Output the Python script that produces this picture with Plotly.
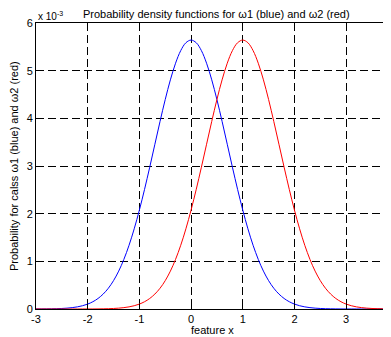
import plotly.graph_objects as go

# feature x sample positions (-3 .. 4, step 0.1)
x_vals = [round(-3 + 0.1 * i, 1) for i in range(71)]

# densities in units of 1e-3
blue_vals = [0.0007, 0.0013, 0.0022, 0.0039, 0.0065, 0.0109, 0.0178, 0.0285, 0.0446, 0.0686,
             0.1033, 0.1526, 0.2210, 0.3136, 0.4361, 0.5947, 0.7947, 1.0411, 1.3367, 1.6824,
             2.0756, 2.5099, 2.9749, 3.4564, 3.9363, 4.3940, 4.8077, 5.1563, 5.4207, 5.5858,
             5.6419,
             5.5858, 5.4207, 5.1563, 4.8077, 4.3940, 3.9363, 3.4564, 2.9749, 2.5099, 2.0756,
             1.6824, 1.3367, 1.0411, 0.7947, 0.5947, 0.4361, 0.3136, 0.2210, 0.1526, 0.1033,
             0.0686, 0.0446, 0.0285, 0.0178, 0.0109, 0.0065, 0.0039, 0.0022, 0.0013, 0.0007,
             0.0004, 0.0002, 0.0001, 0.0001, 0, 0, 0, 0, 0, 0]

red_vals = [0, 0, 0, 0, 0, 0, 0.0001, 0.0001, 0.0002, 0.0004,
            0.0007, 0.0013, 0.0022, 0.0039, 0.0065, 0.0109, 0.0178, 0.0285, 0.0446, 0.0686,
            0.1033, 0.1526, 0.2210, 0.3136, 0.4361, 0.5947, 0.7947, 1.0411, 1.3367, 1.6824,
            2.0756, 2.5099, 2.9749, 3.4564, 3.9363, 4.3940, 4.8077, 5.1563, 5.4207, 5.5858,
            5.6419,
            5.5858, 5.4207, 5.1563, 4.8077, 4.3940, 3.9363, 3.4564, 2.9749, 2.5099, 2.0756,
            1.6824, 1.3367, 1.0411, 0.7947, 0.5947, 0.4361, 0.3136, 0.2210, 0.1526, 0.1033,
            0.0686, 0.0446, 0.0285, 0.0178, 0.0109, 0.0065, 0.0039, 0.0022, 0.0013, 0.0007]

x_ticks = [-3, -2, -1, 0, 1, 2, 3]
x_tick_labels = ["-3", "-2", "-1", "0", "1", "2", "3"]
y_ticks = [0, 1, 2, 3, 4, 5, 6]
y_tick_labels = ["0", "1", "2", "3", "4", "5", "6"]

FONT = "Liberation Sans, Arial, sans-serif"

fig = go.Figure()
fig.add_trace(go.Scatter(x=x_vals, y=blue_vals, mode="lines",
                         line=dict(color="#0000ff", width=1, shape="spline"),
                         showlegend=False, hoverinfo="skip"))
fig.add_trace(go.Scatter(x=x_vals, y=red_vals, mode="lines",
                         line=dict(color="#ff0000", width=1, shape="spline"),
                         showlegend=False, hoverinfo="skip"))

axis_common = dict(
    showline=True, linecolor="black", linewidth=1,
    ticks="inside", ticklen=5, tickcolor="black", tickwidth=1,
    showgrid=True, gridcolor="black", gridwidth=1, griddash="8px,4px",
    zeroline=False,
    tickfont=dict(family=FONT, size=11, color="black"),
)

fig.update_xaxes(range=[-3, 3.868], tickvals=x_ticks, ticktext=x_tick_labels,
                 mirror="ticks", **axis_common)
fig.update_yaxes(range=[0, 6], tickvals=y_ticks, ticktext=y_tick_labels,
                 mirror=False, **axis_common)

# the page body has an 8px margin, so the figure is made 8px smaller and shifted
fig.update_layout(
    width=383, height=329,
    margin=dict(l=28, r=0, t=15, b=28),
    plot_bgcolor="white", paper_bgcolor="white",
    font=dict(family=FONT, size=11, color="black"),
    annotations=[
        dict(text="Probability density functions for ω1 (blue) and ω2 (red)",
             xref="paper", yref="paper", x=0.508, y=1, yshift=1,
             xanchor="center", yanchor="bottom", showarrow=False,
             font=dict(family=FONT, size=11, color="black")),
        dict(text="x 10<sup>-3</sup>",
             xref="paper", yref="paper", x=0, y=1, yshift=-1,
             xanchor="left", yanchor="bottom", showarrow=False,
             font=dict(family=FONT, size=10, color="black")),
        dict(text="feature x",
             xref="paper", yref="paper", x=0.497, y=0, yshift=-13,
             xanchor="center", yanchor="top", showarrow=False,
             font=dict(family=FONT, size=11, color="black")),
        dict(text="Probability for calss ω1 (blue) and ω2 (red)",
             xref="paper", yref="paper", x=0, xshift=-22, y=0.5,
             xanchor="center", yanchor="middle", textangle=-90, showarrow=False,
             font=dict(family=FONT, size=11, color="black")),
    ],
)

fig.write_html("out.html")
